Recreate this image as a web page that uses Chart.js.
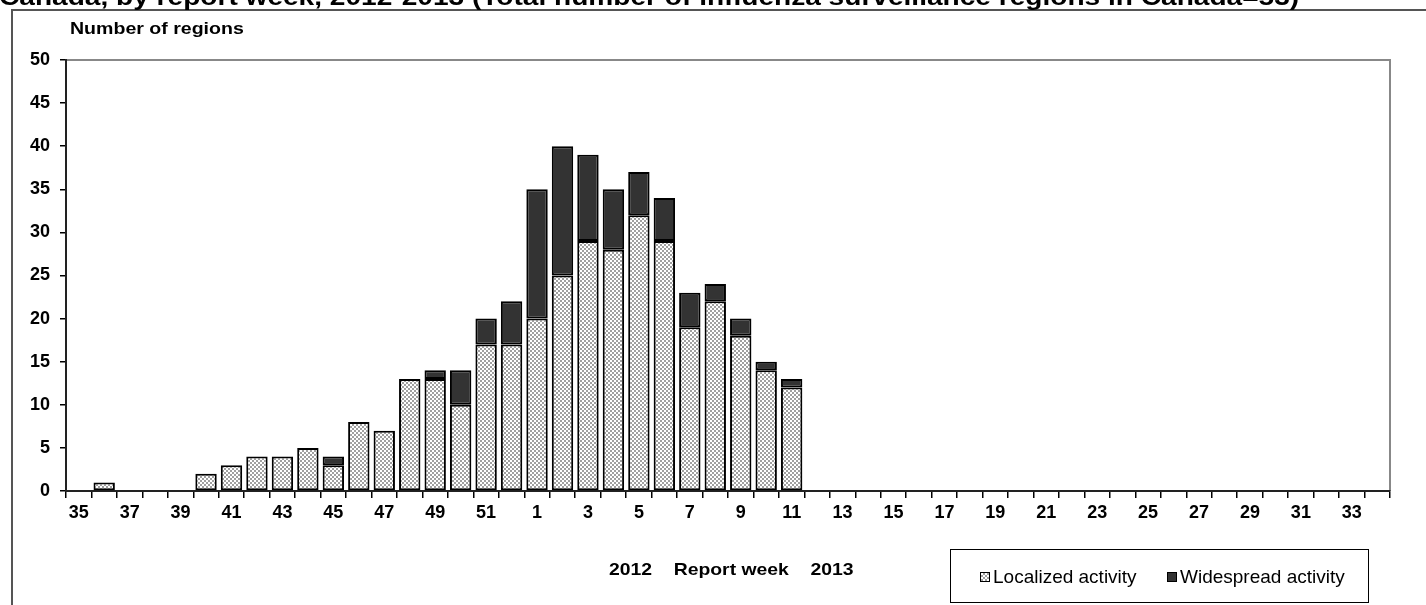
<!DOCTYPE html>
<html>
<head>
<meta charset="utf-8">
<script src="https://cdn.jsdelivr.net/npm/chart.js@4.4.1/dist/chart.umd.min.js"></script>
<style>
  html, body { margin: 0; padding: 0; background: #fff; overflow: hidden; }
  #wrap { position: relative; width: 1426px; height: 605px; }
  #c { position: absolute; left: 0; top: 0; }
  .txt { position: absolute; font-family: "Liberation Sans", Arial, sans-serif; color: #000; white-space: pre; line-height: 1; transform-origin: 0 0; }
  #title { left: -1px; top: -15px; font-size: 24px; font-weight: bold; transform: scaleX(1.17); }
  #ytitle { left: 70px; top: 20px; font-size: 17px; font-weight: bold; transform: scaleX(1.15); }
  #xtitle { left: 609px; top: 561px; font-size: 17px; font-weight: bold; transform: scaleX(1.14); }
  #legend { position: absolute; left: 950px; top: 549px; width: 419px; height: 54px; border: 1.5px solid #000; box-sizing: border-box;
            font-family: "Liberation Sans", Arial, sans-serif; font-size: 19px; }
  .item { position: absolute; top: 17px; display: flex; align-items: center; line-height: 1; }
  .sw { width: 10px; height: 10px; border: 1px solid #000; margin-right: 3px; box-sizing: border-box; }
</style>
</head>
<body>
<div id="wrap">
  <canvas id="c" width="1426" height="605"></canvas>
  <div id="title" class="txt">Canada, by report week, 2012-2013 (Total number of influenza surveillance regions in Canada=53)</div>
  <div id="ytitle" class="txt">Number of regions</div>
  <div id="xtitle" class="txt">2012    Report week    2013</div>
  <div id="legend">
    <div class="item" style="left:29px"><span class="sw" id="swLoc"></span><span>Localized activity</span></div>
    <div class="item" style="left:216px"><span class="sw" style="background:#333"></span><span>Widespread activity</span></div>
  </div>
</div>
<script>
const weeks = ['35','36','37','38','39','40','41','42','43','44','45','46','47','48','49','50','51','52',
  '1','2','3','4','5','6','7','8','9','10','11','12','13','14','15','16','17','18','19','20','21','22','23','24','25','26','27','28','29','30','31','32','33','34'];
const localized = [0,1,0,0,0,2,3,4,4,5,3,8,7,13,13,10,17,17,
  20,25,29,28,32,29,19,22,18,14,12,
  null,null,null,null,null,null,null,null,null,null,null,null,null,null,null,null,null,null,null,null,null,null,null];
const widespread = [0,0,0,0,0,0,0,0,0,0,1,0,0,0,1,4,3,5,
  15,15,10,7,5,5,4,2,2,1,1,
  null,null,null,null,null,null,null,null,null,null,null,null,null,null,null,null,null,null,null,null,null,null,null];
const yTicks = [0,5,10,15,20,25,30,35,40,45,50];

// checkered pattern for localized activity
const pc = document.createElement('canvas');
pc.width = 4; pc.height = 4;
const pctx = pc.getContext('2d');
pctx.fillStyle = '#ffffff'; pctx.fillRect(0,0,4,4);
pctx.fillStyle = '#a0a0a0'; pctx.fillRect(0,0,2,2); pctx.fillRect(2,2,2,2);
const ctx = document.getElementById('c').getContext('2d');
const pattern = ctx.createPattern(pc, 'repeat');
document.getElementById('swLoc').style.background = 'repeating-conic-gradient(#a0a0a0 0 25%, #fff 0 50%) 0 0 / 4px 4px';

const frame = {
  id: 'frame',
  beforeDraw(chart) {
    const c = chart.ctx;
    c.save();
    c.strokeStyle = '#555';
    c.lineWidth = 2;
    c.beginPath();
    c.moveTo(12, 605); c.lineTo(12, 10); c.lineTo(1426, 10);
    c.stroke();
    const a = chart.chartArea;
    c.strokeStyle = '#888';
    c.lineWidth = 2;
    c.beginPath();
    c.moveTo(a.left, a.top); c.lineTo(a.right, a.top); c.lineTo(a.right, a.bottom);
    c.stroke();
    c.restore();
  }
};

new Chart(ctx, {
  type: 'bar',
  data: {
    labels: weeks,
    datasets: [
      { label: 'Localized activity', data: localized, backgroundColor: pattern, borderColor: '#000', borderWidth: 2, borderSkipped: false,
        barPercentage: 0.84, categoryPercentage: 1.0 },
      { label: 'Widespread activity', data: widespread, backgroundColor: '#333333', borderColor: '#000', borderWidth: 2, borderSkipped: false,
        barPercentage: 0.84, categoryPercentage: 1.0 }
    ]
  },
  options: {
    responsive: false,
    animation: false,
    devicePixelRatio: 1,
    layout: { padding: { left: 0, right: 36, top: 60, bottom: 0 } },
    plugins: { legend: { display: false }, tooltip: { enabled: false }, title: { display: false } },
    scales: {
      x: {
        stacked: true,
        afterFit(s) { s.height = 605 - 491; },
        grid: { display: true, offset: true, drawOnChartArea: false, tickLength: 7, color: '#000', lineWidth: 1.5 },
        border: { display: true, color: '#222', width: 2 },
        ticks: {
          autoSkip: false, maxRotation: 0, minRotation: 0, padding: 4, color: '#000',
          font: { family: '"Liberation Sans", Arial, sans-serif', size: 18, weight: 'bold' },
          callback: (v, i) => (i % 2 === 0 ? weeks[i] : '')
        }
      },
      y: {
        stacked: true,
        min: 0, max: 50,
        afterFit(s) { s.width = 66; },
        afterBuildTicks(s) { s.ticks = yTicks.map(v => ({ value: v })); },
        grid: { display: true, drawOnChartArea: false, tickLength: 6, color: '#000', lineWidth: 1.5 },
        border: { display: true, color: '#222', width: 2 },
        ticks: {
          padding: 10, color: '#000',
          font: { family: '"Liberation Sans", Arial, sans-serif', size: 18, weight: 'bold' }
        }
      }
    }
  },
  plugins: [frame]
});
</script>
</body>
</html>
